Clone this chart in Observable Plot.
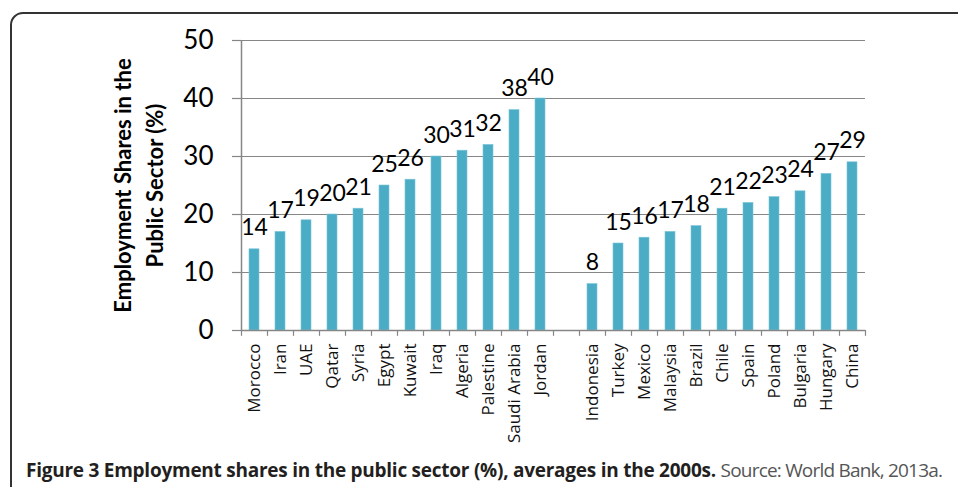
<!DOCTYPE html>
<html>
<head>
<meta charset="utf-8">
<script src="https://cdn.jsdelivr.net/npm/d3@7"></script>
<script src="https://cdn.jsdelivr.net/npm/@observablehq/plot@0.6"></script>
<style>
  html, body { margin: 0; padding: 0; background: #fff; overflow: hidden; }
  #wrap { position: relative; width: 958px; height: 487px; overflow: hidden; }
  #border { position: absolute; left: 10px; top: 12px; width: 1000px; height: 520px;
            border: 2px solid #333; border-radius: 13px; box-sizing: border-box; }
  #chart { position: absolute; left: 0; top: 0; }
  #caption { position: absolute; left: 26px; top: 457px; font-family: "Open Sans", sans-serif;
             font-size: 19px; color: #231f20; white-space: nowrap; letter-spacing: -0.25px; }
  #caption b { font-weight: 700; }
  #caption span { color: #555; letter-spacing: -0.8px; }
</style>
</head>
<body>
<div id="wrap">
  <div id="border"></div>
  <div id="chart"></div>
  <div id="caption"><b>Figure 3 Employment shares in the public sector (%), averages in the 2000s.</b> <span>Source: World Bank, 2013a.</span></div>
</div>
<script>
const menaCountries = ["Morocco","Iran","UAE","Qatar","Syria","Egypt","Kuwait","Iraq","Algeria","Palestine","Saudi Arabia","Jordan"];
const menaValues = [14,17,19,20,21,25,26,30,31,32,38,40];
const otherCountries = ["Indonesia","Turkey","Mexico","Malaysia","Brazil","Chile","Spain","Poland","Bulgaria","Hungary","China"];
const otherValues = [8,15,16,17,18,21,22,23,24,27,29];
const spacer = " ";
const yTicks = [0,10,20,30,40,50];
const yTitle = "Employment Shares in the\nPublic Sector (%)";

const domain = [...menaCountries, spacer, ...otherCountries];
const data = [
  ...menaCountries.map((c, i) => ({country: c, value: menaValues[i]})),
  ...otherCountries.map((c, i) => ({country: c, value: otherValues[i]}))
];

const gray = "#868686";
const barColor = "#4BACC6";
const step = (958 - 241 - 93) / domain.length;

const plot = Plot.plot({
  width: 958,
  height: 487,
  marginLeft: 241,
  marginRight: 93,
  marginTop: 40,
  marginBottom: 157,
  style: {background: "transparent", overflow: "visible"},
  x: {domain, paddingInner: 0.6, paddingOuter: 0.3, axis: null},
  y: {domain: [0, 50], axis: null},
  marks: [
    Plot.gridY(yTicks.filter(d => d > 0), {stroke: gray, strokeOpacity: 1, strokeWidth: 1.2}),
    Plot.axisY(yTicks, {tickSize: 9, tickPadding: 19, stroke: gray, strokeWidth: 1.2,
      fontSize: 26, fontFamily: "Lato", fill: "#000", label: null}),
    Plot.barY(data, {x: "country", y: "value", fill: barColor, stroke: "#7cc5d8", strokeWidth: 0.6}),
    Plot.ruleY([0], {stroke: gray, strokeWidth: 1.5}),
    Plot.ruleX([domain[0]], {x: d => d, y1: 0, y2: 50, dx: -step / 2, stroke: gray, strokeWidth: 1.5}),
    Plot.ruleX(domain, {x: d => d, y1: 0, y2: -1, dx: -step / 2, stroke: gray, strokeWidth: 1.2}),
    Plot.ruleX([domain[domain.length - 1]], {x: d => d, y1: 0, y2: -1, dx: step / 2, stroke: gray, strokeWidth: 1.2}),
    Plot.text(data, {x: "country", y: "value", text: d => String(d.value), dy: -14,
      lineAnchor: "bottom", fontSize: 23, fontFamily: "Lato", fill: "#000"}),
    Plot.text(domain.filter(d => d !== spacer), {x: d => d, y: 0, text: d => d, rotate: -90,
      textAnchor: "end", dy: 13, fontSize: 17, fontFamily: "Open Sans", fill: "#111"}),
    Plot.text([yTitle], {frameAnchor: "left", text: d => d, rotate: -90, dx: -105,
      textAnchor: "middle", lineAnchor: "middle", lineHeight: 1.45, fontSize: 22, fontWeight: "bold",
      fontFamily: "Lato", fill: "#000"})
  ]
});
document.getElementById("chart").appendChild(plot);
</script>
</body>
</html>
